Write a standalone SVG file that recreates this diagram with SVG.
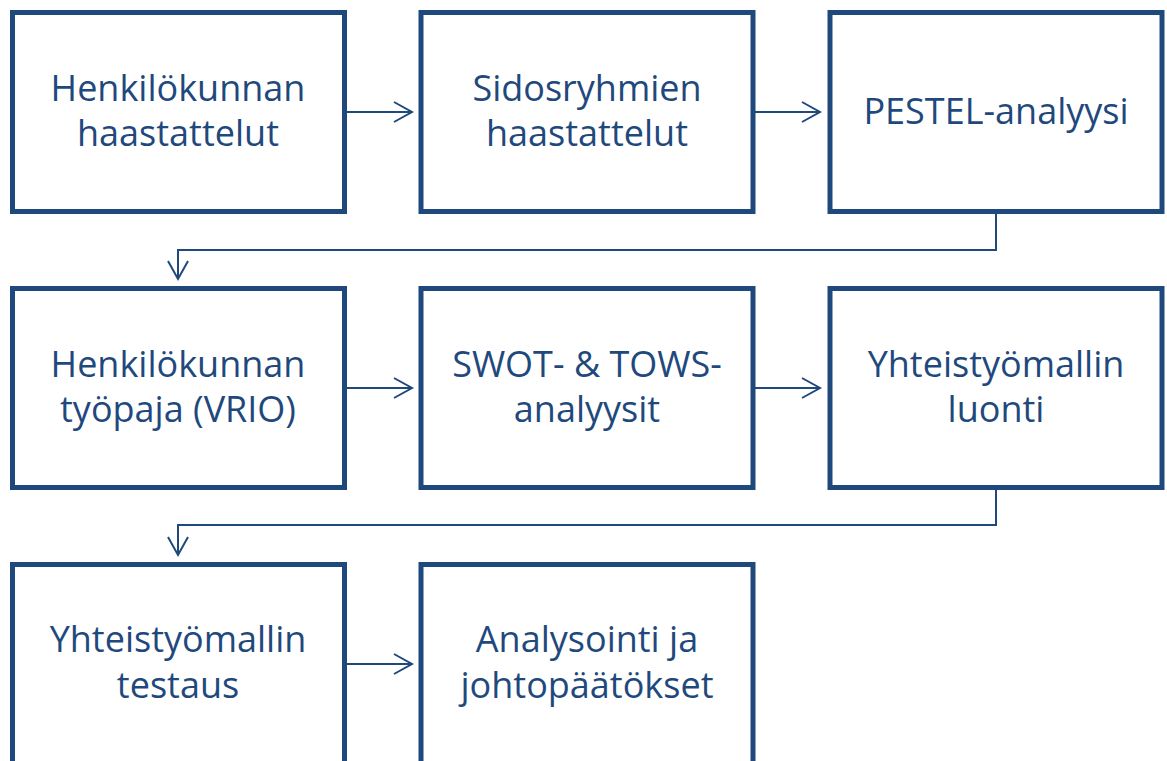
<svg xmlns="http://www.w3.org/2000/svg" width="1167" height="761" viewBox="0 0 1167 761">
<style>
.box{fill:#fff;stroke:#1F497D;stroke-width:5}
.t{font-family:"Open Sans","Liberation Sans",Arial,sans-serif;font-size:36px;fill:#1F497D;text-anchor:middle}
.c{fill:none;stroke:#1F497D;stroke-width:2}
</style>
<defs>
<marker id="ah" markerUnits="userSpaceOnUse" markerWidth="24" markerHeight="24" viewBox="-20 -12 24 24" refX="0" refY="0" orient="auto">
<path d="M-18,-10 L0,0 L-18,10" fill="none" stroke="#1F497D" stroke-width="2"/>
</marker>
</defs>
<rect width="1167" height="761" fill="#fff"/>
<g id="connectors">
<line class="c" x1="345" y1="112" x2="412" y2="112" marker-end="url(#ah)"/>
<line class="c" x1="754" y1="112" x2="820" y2="112" marker-end="url(#ah)"/>
<path class="c" d="M996,214 V250 H178 V279" marker-end="url(#ah)"/>
<line class="c" x1="345" y1="388" x2="412" y2="388" marker-end="url(#ah)"/>
<line class="c" x1="754" y1="388" x2="820" y2="388" marker-end="url(#ah)"/>
<path class="c" d="M996,490 V525 H178 V555" marker-end="url(#ah)"/>
<line class="c" x1="345" y1="664" x2="412" y2="664" marker-end="url(#ah)"/>
</g>
<g id="n1"><rect class="box" x="12.5" y="12.5" width="332" height="199"/><text class="t" x="178"><tspan x="178" y="101">Henkilökunnan</tspan><tspan x="178" y="146">haastattelut</tspan></text></g>
<g id="n2"><rect class="box" x="421" y="12.5" width="332" height="199"/><text class="t"><tspan x="587" y="101">Sidosryhmien</tspan><tspan x="587" y="146">haastattelut</tspan></text></g>
<g id="n3"><rect class="box" x="830" y="12.5" width="332" height="199"/><text class="t"><tspan x="996" y="124">PESTEL-analyysi</tspan></text></g>
<g id="n4"><rect class="box" x="12.5" y="288.5" width="332" height="199"/><text class="t"><tspan x="178" y="377">Henkilökunnan</tspan><tspan x="178" y="422">työpaja (VRIO)</tspan></text></g>
<g id="n5"><rect class="box" x="421" y="288.5" width="332" height="199"/><text class="t"><tspan x="587" y="377">SWOT- &amp; TOWS-</tspan><tspan x="587" y="422">analyysit</tspan></text></g>
<g id="n6"><rect class="box" x="830" y="288.5" width="332" height="199"/><text class="t"><tspan x="996" y="377">Yhteistyömallin</tspan><tspan x="996" y="422">luonti</tspan></text></g>
<g id="n7"><rect class="box" x="12.5" y="564.5" width="332" height="199"/><text class="t"><tspan x="178" y="652">Yhteistyömallin</tspan><tspan x="178" y="698">testaus</tspan></text></g>
<g id="n8"><rect class="box" x="421" y="564.5" width="332" height="199"/><text class="t"><tspan x="587" y="652">Analysointi ja</tspan><tspan x="587" y="698">johtopäätökset</tspan></text></g>
</svg>
